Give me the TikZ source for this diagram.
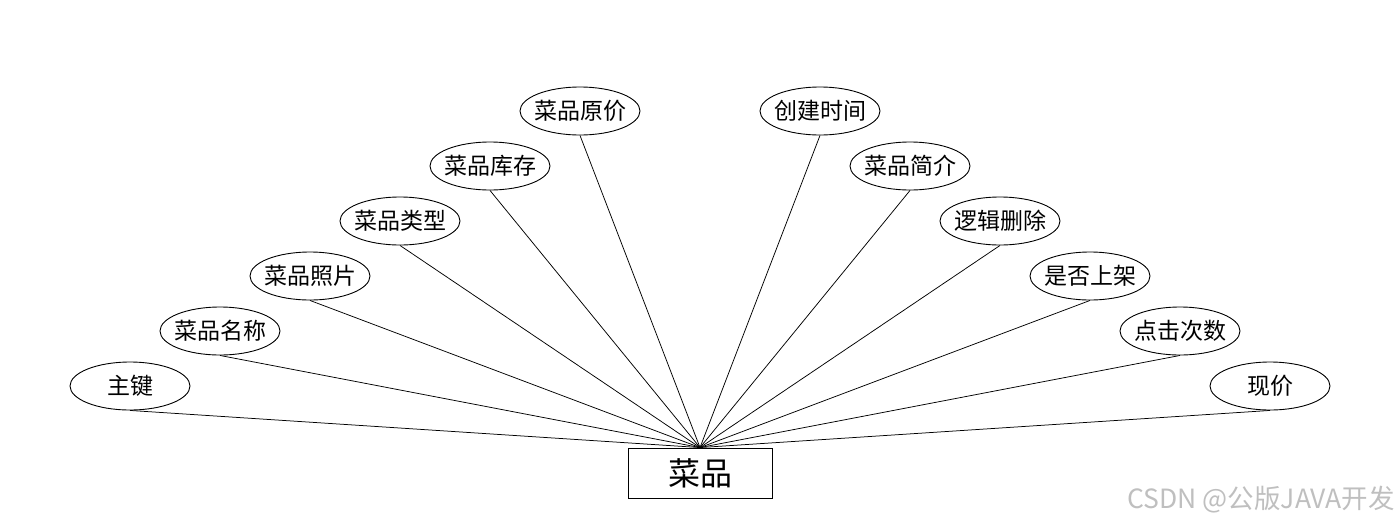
\documentclass[tikz,border=0pt]{standalone}
\usepackage{fontspec}
\setmainfont{Noto Sans CJK SC}
\newfontfamily\cjk{Noto Sans CJK SC}
\usetikzlibrary{shapes.geometric}
\begin{document}
\begin{tikzpicture}[x=1pt,y=-1pt,
  attr/.style={ellipse,draw,line width=0.9pt,minimum width=120pt,minimum height=48pt,inner xsep=-5pt,inner ysep=0pt,font=\cjk\fontsize{23}{26}\selectfont},
  ent/.style={rectangle,draw,line width=0.9pt,minimum width=144pt,minimum height=50pt,inner sep=0pt,font=\cjk\fontsize{32}{35}\selectfont},
  link/.style={line width=0.75pt}]
\useasboundingbox (0,0) rectangle (1400,528);
\node[ent] (e) at (700,473) {菜品};
\node[attr] (a1) at (130,386) {主键};
\node[attr] (a2) at (220,331) {菜品名称};
\node[attr] (a3) at (310,276) {菜品照片};
\node[attr] (a4) at (400,221) {菜品类型};
\node[attr] (a5) at (490,166) {菜品库存};
\node[attr] (a6) at (580,111) {菜品原价};
\node[attr] (a7) at (820,111) {创建时间};
\node[attr] (a8) at (910,166) {菜品简介};
\node[attr] (a9) at (1000,221) {逻辑删除};
\node[attr] (a10) at (1090,276) {是否上架};
\node[attr] (a11) at (1180,331) {点击次数};
\node[attr] (a12) at (1270,386) {现价};
\foreach \i in {1,...,12}{\draw[link] (a\i.south) -- (e.north);}
\node[anchor=east,text=black!25,font=\cjk\fontsize{26.5}{29}\selectfont,inner sep=0pt] (wm) at (1395,500) {CSDN @公版JAVA开发};
\end{tikzpicture}
\end{document}
